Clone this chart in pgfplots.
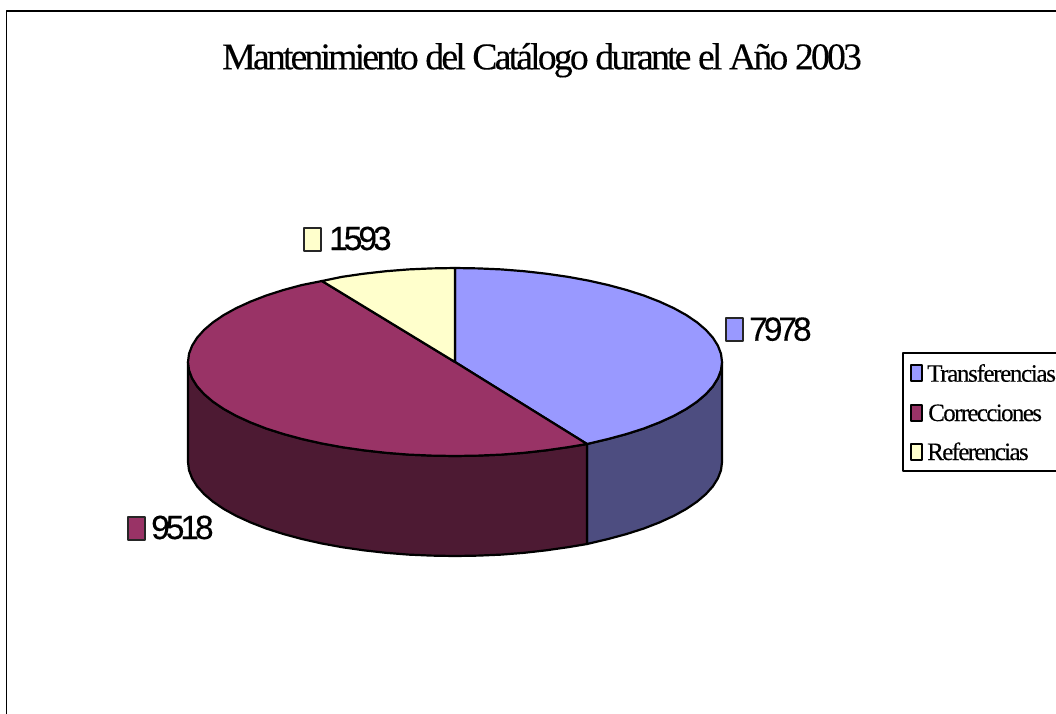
\documentclass[border=0pt]{standalone}
\usepackage{pgfplots}
\pgfplotsset{compat=1.18}
\usepackage{fontspec}
\setmainfont{Liberation Serif}
\newfontfamily\titlefont[LetterSpace=-7.6,FakeBold=0.25]{Liberation Serif}
\newfontfamily\legfont[LetterSpace=-5.4,FakeBold=0.2]{Liberation Serif}
\newfontfamily\legtightfont[LetterSpace=-6.6,FakeBold=0.2]{Liberation Serif}
\newfontfamily\valfont[LetterSpace=-12,FakeBold=0.3]{Liberation Sans}
\definecolor{topblue}{HTML}{9999FF}
\definecolor{topwine}{HTML}{993366}
\definecolor{topcream}{HTML}{FFFFCC}
\definecolor{sideblue}{HTML}{4D4D80}
\definecolor{sidewine}{HTML}{4D1A33}
\begin{document}
\begin{tikzpicture}
% page size is fixed here, the frame below overshoots it
\path[use as bounding box] (0,0) rectangle (1056pt,713pt);
\begin{axis}[
    at={(0,0)},
    anchor=south west,
    scale only axis,
    width=1056pt,
    height=713pt,
    xmin=0, xmax=1056,
    ymin=0, ymax=713,
    y dir=reverse,
    hide axis,
    every axis plot/.append style={line join=round},
]

% outer frame, runs off the right and bottom of the page
\addplot[black, line width=1.1pt] coordinates {(6.7,720) (6.7,11) (1064,11)};

% --- side walls, 100 px below the top face ---
\addplot[fill=sideblue, draw=black, line width=2.2pt] coordinates {
    (722,362) (721,370.2) (717.9,378.3) (712.9,386.3) (705.9,394.1) (697,401.7)
    (686.2,409) (673.7,415.9) (659.5,422.4) (643.8,428.5) (626.6,434) (608.1,439) (587,444)
    (587,544) (608.1,539) (626.6,534) (643.8,528.5) (659.5,522.4) (673.7,515.9) (686.2,509)
    (697,501.7) (705.9,494.1) (712.9,486.3) (717.9,478.3) (721,470.2) (722,462)
} -- cycle;
\addplot[fill=sidewine, draw=black, line width=2.2pt] coordinates {
    (587,444) (567.8,447.2) (546.3,450.3) (524.1,452.8) (501.4,454.6) (478.3,455.6) (455,456)
    (431.7,455.6) (408.6,454.6) (385.9,452.8) (363.7,450.3) (342.2,447.2) (321.5,443.4)
    (301.9,439) (283.4,434) (266.2,428.5) (250.5,422.4) (236.3,415.9) (223.8,409) (213,401.7)
    (204.1,394.1) (197.1,386.3) (192.1,378.3) (189,370.2) (188,362)
    (188,462) (189,470.2) (192.1,478.3) (197.1,486.3) (204.1,494.1) (213,501.7) (223.8,509)
    (236.3,515.9) (250.5,522.4) (266.2,528.5) (283.4,534) (301.9,539) (321.5,543.4) (342.2,547.2)
    (363.7,550.3) (385.9,552.8) (408.6,554.6) (431.7,555.6) (455,556) (478.3,555.6) (501.4,554.6)
    (524.1,552.8) (546.3,550.3) (567.8,547.2) (587,544)
} -- cycle;

% --- top face: Transferencias 7978 ---
\addplot[fill=topblue, draw=black, line width=2.2pt] coordinates {
    (455,362) (455,268) (478.3,268.4) (501.4,269.4) (524.1,271.2) (546.3,273.7) (567.8,276.8)
    (588.5,280.6) (608.1,285) (626.6,290) (643.8,295.5) (659.5,301.6) (673.7,308.1) (686.2,315)
    (697,322.3) (705.9,329.9) (712.9,337.7) (717.9,345.7) (721,353.8) (722,362)
    (721,370.2) (717.9,378.3) (712.9,386.3) (705.9,394.1) (697,401.7) (686.2,409) (673.7,415.9)
    (659.5,422.4) (643.8,428.5) (626.6,434) (608.1,439) (587,444)
} -- cycle;
% --- Correcciones 9518 ---
\addplot[fill=topwine, draw=black, line width=2.2pt] coordinates {
    (455,362) (587,444) (567.8,447.2) (546.3,450.3) (524.1,452.8) (501.4,454.6) (478.3,455.6) (455,456)
    (431.7,455.6) (408.6,454.6) (385.9,452.8) (363.7,450.3) (342.2,447.2) (321.5,443.4)
    (301.9,439) (283.4,434) (266.2,428.5) (250.5,422.4) (236.3,415.9) (223.8,409) (213,401.7)
    (204.1,394.1) (197.1,386.3) (192.1,378.3) (189,370.2) (188,362) (189,353.8) (192.1,345.7)
    (197.1,337.7) (204.1,329.9) (213,322.3) (223.8,315) (236.3,308.1) (250.5,301.6) (266.2,295.5)
    (283.4,290) (301.9,285) (322,281)
} -- cycle;
% --- Referencias 1593 ---
\addplot[fill=topcream, draw=black, line width=2.2pt] coordinates {
    (455,362) (322,281) (342.2,276.8) (363.7,273.7) (385.9,271.2) (408.6,269.4) (431.7,268.4) (455,268)
} -- cycle;

% --- value label keys ---
\addplot[fill=topblue, draw=black!85, line width=2pt] coordinates {(726,318) (742.5,318) (742.5,341) (726,341)} -- cycle;
\addplot[fill=topwine, draw=black!85, line width=2pt] coordinates {(128,517) (145,517) (145,540) (128,540)} -- cycle;
\addplot[fill=topcream, draw=black!85, line width=2pt] coordinates {(304,228) (320.5,228) (320.5,251) (304,251)} -- cycle;

\node[anchor=base west, inner sep=0pt, font=\valfont\fontsize{33.5}{36}\selectfont] at (axis cs:749,340.7) {7978};
\node[anchor=base west, inner sep=0pt, font=\valfont\fontsize{33.5}{36}\selectfont] at (axis cs:151,539) {9518};
\node[anchor=base west, inner sep=0pt, font=\valfont\fontsize{33.5}{36}\selectfont] at (axis cs:329,250) {1593};

% --- title ---
\node[anchor=base west, inner sep=0pt, font=\titlefont\fontsize{37.8}{40}\selectfont] at (axis cs:222,69.3)
    {Mantenimiento del Catálogo durante el Año 2003};

% --- legend ---
\addplot[fill=white, draw=black, line width=1.1pt] coordinates {(903,353) (1064,353) (1064,471) (903,471)} -- cycle;
\addplot[fill=topblue, draw=black, line width=2pt] coordinates {(910.5,365) (921.5,365) (921.5,381) (910.5,381)} -- cycle;
\addplot[fill=topwine, draw=black, line width=2pt] coordinates {(910.5,405) (921.5,405) (921.5,420.5) (910.5,420.5)} -- cycle;
\addplot[fill=topcream, draw=black, line width=2pt] coordinates {(910.5,444) (921.5,444) (921.5,459.5) (910.5,459.5)} -- cycle;
\node[anchor=base west, inner sep=0pt, font=\legfont\fontsize{25}{27}\selectfont] at (axis cs:927,381.7) {Transferencias};
\node[anchor=base west, inner sep=0pt, font=\legtightfont\fontsize{25}{27}\selectfont] at (axis cs:928,421) {Correcciones};
\node[anchor=base west, inner sep=0pt, font=\legtightfont\fontsize{25}{27}\selectfont] at (axis cs:927,460) {Referencias};
\end{axis}
\end{tikzpicture}
\end{document}
